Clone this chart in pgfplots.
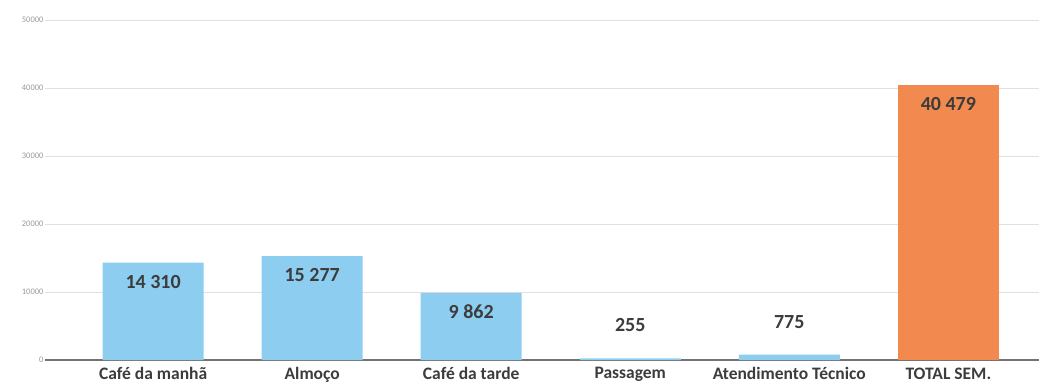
\documentclass[border=0pt]{standalone}
\usepackage{pgfplots}
\pgfplotsset{compat=1.18}
\usepackage{fontspec}
\setmainfont{Carlito}
\definecolor{barblue}{RGB}{141,206,240}
\definecolor{barorange}{RGB}{242,138,80}
\definecolor{lbl}{RGB}{60,60,60}
\begin{document}
\begin{tikzpicture}
\useasboundingbox (-45pt,-31pt) rectangle (994pt,360pt);
\begin{axis}[
  scale only axis,
  width=994pt, height=340pt,
  anchor=south west, at={(0pt,0pt)},
  xmin=-0.68, xmax=5.57,
  ymin=0, ymax=50000,
  xtick={0,1,2,3,4,5},
  xticklabels={Café da manhã,Almoço,Café da tarde,Passagem,Atendimento Técnico,TOTAL SEM.},
  xticklabel style={font=\fontsize{17.5}{20}\selectfont\bfseries, text=lbl, yshift=-4pt},
  ytick={0,10000,20000,30000,40000,50000},
  scaled y ticks=false,
  yticklabel style={font=\fontsize{8.5}{9}\selectfont, text=black!40, xshift=2pt},
  /pgf/number format/assume math mode=true,
  /pgf/number format/1000 sep={},
  major tick length=0pt,
  ymajorgrids,
  grid style={black!12, line width=0.8pt},
  axis x line*=bottom,
  axis y line*=left,
  y axis line style={draw=none},
  x axis line style={black!55, line width=1.2pt, -},
  ybar, bar width=101pt, bar shift=0pt,
  nodes near coords,
  every node near coord/.append style={font=\fontsize{20}{22}\selectfont\bfseries, text=lbl, anchor=center},
  nodes near coords={\pgfmathprintnumber[1000 sep={\ }, assume math mode=true]{\pgfplotspointmeta}},
  clip=false,
]
\addplot[fill=barblue, draw=none, every node near coord/.append style={yshift=-19pt}] coordinates {(0,14310) (1,15277) (2,9862)};
\addplot[fill=barblue, draw=none, every node near coord/.append style={yshift=33pt}] coordinates {(3,255) (4,775)};
\addplot[fill=barorange, draw=none, every node near coord/.append style={yshift=-19pt}] coordinates {(5,40479)};
\end{axis}
\end{tikzpicture}
\end{document}
